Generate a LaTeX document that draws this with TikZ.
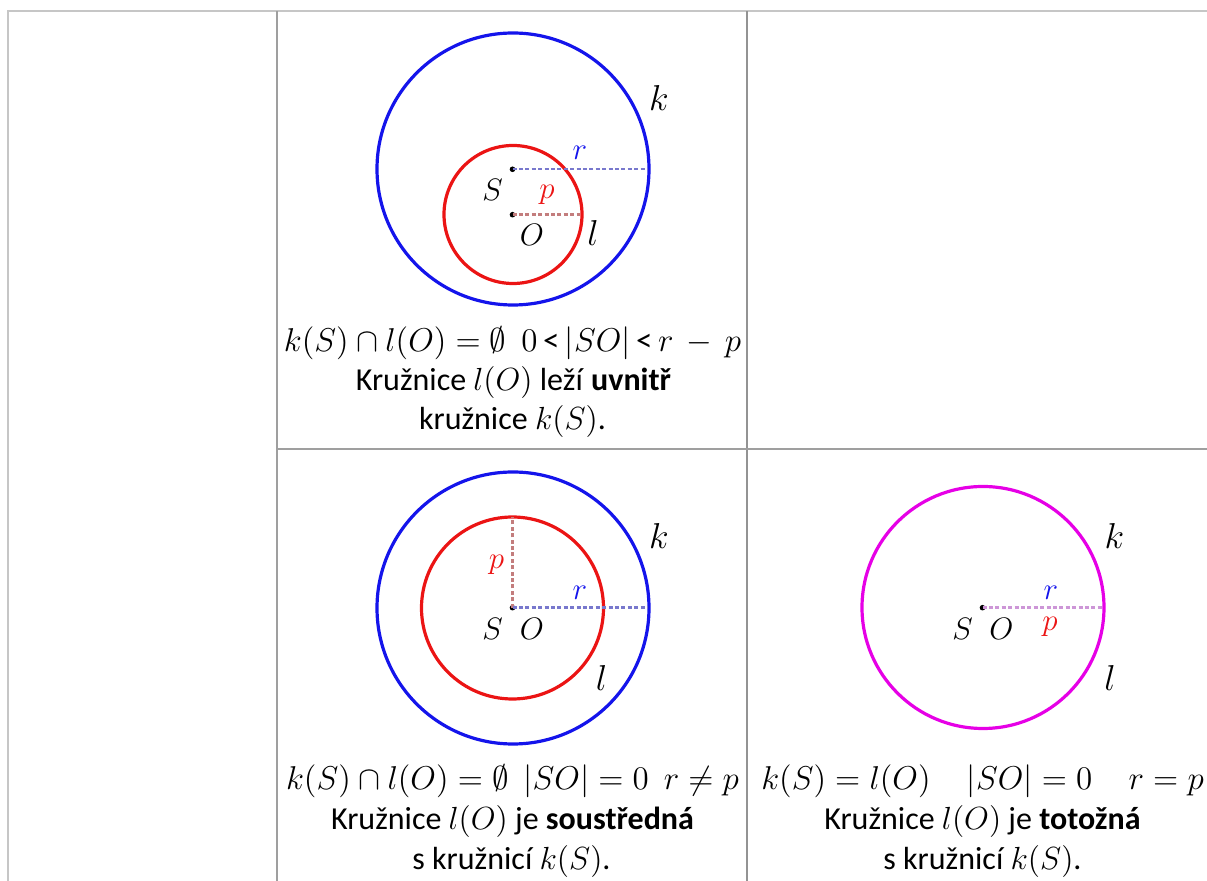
\RequirePackage{fix-cm}
\documentclass[tikz,border=0pt]{standalone}
\usepackage{fontspec}
\setmainfont{Carlito}
\definecolor{kblue}{RGB}{20,20,235}
\definecolor{lred}{RGB}{235,20,20}
\definecolor{kmag}{RGB}{230,0,230}
\definecolor{rdash}{RGB}{120,120,205}
\definecolor{pdash}{RGB}{195,125,125}
\definecolor{mdash}{RGB}{205,150,215}
\tikzset{
  rule/.style={line width=1pt, gray!75},
  rulelight/.style={line width=1pt, gray!45},
  kcirc/.style={line width=1.6pt, draw=kblue},
  lcirc/.style={line width=1.6pt, draw=lred},
  mcirc/.style={line width=1.6pt, draw=kmag},
  radius line/.style={line width=1.2pt, dash pattern=on 2pt off 1.2pt},
  dot/.style={circle, fill=black, inner sep=0pt, minimum size=2.8pt},
  lbl/.style={font=\fontsize{15.5}{18}\selectfont, inner sep=0pt},
  cname/.style={font=\fontsize{18}{20}\selectfont, inner sep=0pt},
  formula/.style={font=\fontsize{16.5}{19}\selectfont, inner sep=0pt},
  caption/.style={font=\fontsize{16}{19}\selectfont, inner sep=0pt}
}
\begin{document}
\begin{tikzpicture}[x=0.5pt, y=-0.5pt]
\useasboundingbox (0,0) rectangle (1207,881);

% ------------------ table rules ------------------
\draw[rulelight] (7,11) -- (1207,11);
\draw[rulelight] (7.5,11) -- (7.5,881);
\draw[rule] (277,11) -- (277,881);
\draw[rule, gray!85] (747,11) -- (747,881);
\draw[rule] (277,449.5) -- (1207,449.5);

% ------------------ cell 1: l inside k ------------------
\draw[kcirc] (513,169) circle[radius=136];
\draw[lcirc] (513,214.5) circle[radius=69];
\node[dot] (S1) at (512.5,169.3) {};
\node[dot] (O1) at (512.5,214.7) {};
\coordinate (r1) at (647,169.3);
\coordinate (p1) at (580,214.7);
\draw[radius line, rdash] (S1.center) -- (r1);
\draw[radius line, pdash] (O1.center) -- (p1);
\node[lbl, text=kblue] (rlab1) at (580,153) {$r$};
\node[lbl, text=lred] (plab1) at (547,195) {$p$};
\node[lbl] (Slab1) at (492.5,190) {$S$};
\node[lbl] (Olab1) at (532,235) {$O$};
\node[cname] (klab1) at (659,98) {$k$};
\node[cname] (llab1) at (593,233) {$l$};
\node[formula] (f1) at (512.5,343) {$k(S)\cap l(O)=\emptyset\ \ 0\,$<$\,|SO|\,$<$\,r\,-\,p$};
\node[caption] (c1a) at (513.5,383) {Kružnice $l(O)$ leží \textbf{uvnitř}};
\node[caption] (c1b) at (512.5,422) {kružnice $k(S)$.};

% ------------------ cell 2: concentric ------------------
\draw[kcirc] (513,608) circle[radius=136];
\draw[lcirc] (512.5,608) circle[radius=91];
\node[dot] (S2) at (512.5,607.7) {};
\coordinate (p2) at (512.5,517.5);
\coordinate (r2) at (647,607.7);
\draw[radius line, pdash] (S2.center) -- (p2);
\draw[radius line, rdash] (S2.center) -- (r2);
\node[lbl, text=lred] (plab2) at (496.5,565) {$p$};
\node[lbl, text=kblue] (rlab2) at (580,593) {$r$};
\node[lbl] (Slab2) at (492.5,628.5) {$S$};
\node[lbl] (Olab2) at (532,628.5) {$O$};
\node[cname] (klab2) at (659,536.5) {$k$};
\node[cname] (llab2) at (601.5,678) {$l$};
\node[formula] (f2) at (512.5,781.5) {$k(S)\cap l(O)=\emptyset\ \ |SO|=0\ \ r\neq p$};
\node[caption] (c2a) at (512.5,821.5) {Kružnice $l(O)$ je \textbf{soustředná}};
\node[caption] (c2b) at (511.5,861.5) {s kružnicí $k(S)$.};

% ------------------ cell 3: identical ------------------
\draw[mcirc] (983,607.5) circle[radius=121];
\node[dot] (S3) at (982.5,607.7) {};
\coordinate (rp3) at (1104,607.7);
\draw[radius line, mdash] (S3.center) -- (rp3);
\node[lbl, text=kblue] (rlab3) at (1051,593) {$r$};
\node[lbl, text=lred] (plab3) at (1050,627) {$p$};
\node[lbl] (Slab3) at (962.5,628.5) {$S$};
\node[lbl] (Olab3) at (1001.5,628.5) {$O$};
\node[cname] (klab3) at (1114.5,536.5) {$k$};
\node[cname] (llab3) at (1110,678) {$l$};
\node[formula] (f3) at (982.5,781.5) {$k(S)=l(O)\hspace{1.1em}|SO|=0\hspace{1.1em}r=p$};
\node[caption] (c3a) at (982.5,821.5) {Kružnice $l(O)$ je \textbf{totožná}};
\node[caption] (c3b) at (982.5,861.5) {s kružnicí $k(S)$.};
\end{tikzpicture}
\end{document}
